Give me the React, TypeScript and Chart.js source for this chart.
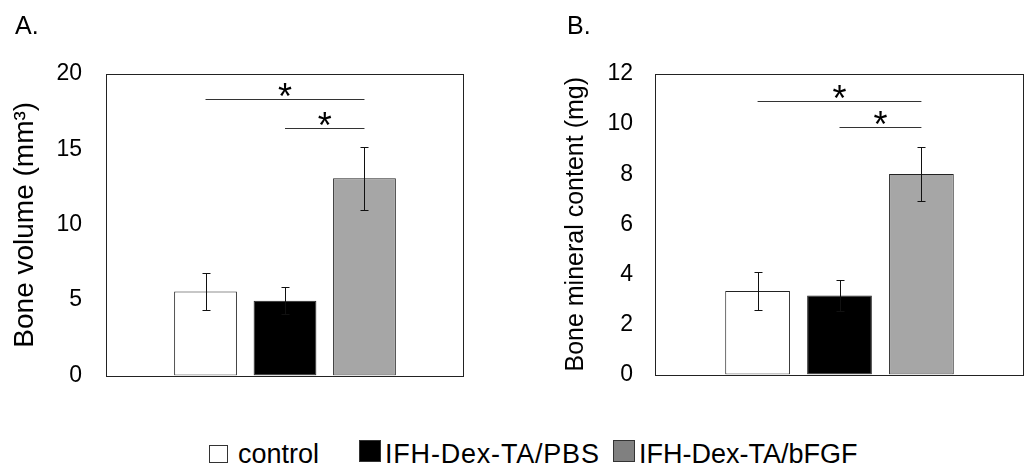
import React, { useEffect, useRef } from 'react';
import { Chart, registerables } from 'chart.js';
Chart.register(...registerables);

const groups = ['control', 'IFH-Dex-TA/PBS', 'IFH-Dex-TA/bFGF'];
const volumeMeans = [5.58, 4.96, 13.08];
const volumeErrors = [1.24, 0.91, 2.1];
const mineralMeans = [3.33, 3.15, 8.01];
const mineralErrors = [0.75, 0.63, 1.09];
const volumeTicks = [0, 5, 10, 15, 20];
const mineralTicks = [0, 2, 4, 6, 8, 10, 12];
const volumeSigFrom = [0, 1];
const volumeSigTo = [2, 2];
const volumeSigLevel = [18.32, 16.41];
const mineralSigFrom = [0, 1];
const mineralSigTo = [2, 2];
const mineralSigLevel = [10.91, 9.88];
const sigMark = '*';
const fillColors = ['#ffffff', '#000000', '#a6a6a6'];
const swatchColors = ['#ffffff', '#000000', '#808080'];

const FONT = '"Liberation Sans", Arial, sans-serif';

type PanelOpts = {
  letter: string;
  letterX: number;
  means: number[];
  errors: number[];
  ticks: number[];
  max: number;
  title: string;
  titleSize: number;
  titlePad: number;
  axisWidth: number;
  tickPad: number;
  padding: { top: number; bottom: number; left: number; right: number };
  sigFrom: number[];
  sigTo: number[];
  sigLevel: number[];
};

function makeChart(canvas: HTMLCanvasElement, o: PanelOpts) {
  const panelPlugin = {
    id: 'panelDecor',
    afterDatasetsDraw(chart: any) {
      const ctx = chart.ctx as CanvasRenderingContext2D;
      const { left, right, top, bottom } = chart.chartArea;
      const y = chart.scales.y;
      ctx.save();
      // plot box
      ctx.strokeStyle = '#222';
      ctx.lineWidth = 1;
      ctx.strokeRect(Math.round(left) + 0.5, Math.round(top) + 0.5, Math.round(right - left) - 1, Math.round(bottom - top));
      // error bars
      ctx.strokeStyle = '#111';
      o.means.forEach((m, i) => {
        const el = chart.getDatasetMeta(i).data[0];
        const x = Math.round(el.x) + 0.5;
        const hi = Math.round(y.getPixelForValue(m + o.errors[i])) + 0.5;
        const lo = Math.round(y.getPixelForValue(m - o.errors[i])) + 0.5;
        ctx.beginPath();
        ctx.moveTo(x, hi);
        ctx.lineTo(x, lo);
        ctx.moveTo(x - 4, hi);
        ctx.lineTo(x + 4, hi);
        ctx.moveTo(x - 4, lo);
        ctx.lineTo(x + 4, lo);
        ctx.stroke();
      });
      // significance lines
      ctx.strokeStyle = '#333';
      ctx.fillStyle = '#000';
      ctx.font = `36px ${FONT}`;
      ctx.textAlign = 'center';
      ctx.textBaseline = 'alphabetic';
      o.sigLevel.forEach((lvl, k) => {
        const x1 = chart.getDatasetMeta(o.sigFrom[k]).data[0].x;
        const x2 = chart.getDatasetMeta(o.sigTo[k]).data[0].x;
        const ly = Math.round(y.getPixelForValue(lvl)) + 0.5;
        ctx.beginPath();
        ctx.moveTo(x1, ly);
        ctx.lineTo(x2, ly);
        ctx.stroke();
        const mt = ctx.measureText(sigMark);
        const base = ly - 3 - mt.actualBoundingBoxDescent;
        ctx.fillText(sigMark, (x1 + x2) / 2, base);
      });
      // panel letter
      ctx.textAlign = 'left';
      ctx.font = `25px ${FONT}`;
      ctx.fillText(o.letter, o.letterX, 34);
      ctx.restore();
    },
  };

  return new Chart(canvas, {
    type: 'bar',
    data: {
      labels: [''],
      datasets: groups.map((g, i) => ({
        label: g,
        data: [o.means[i]],
        backgroundColor: fillColors[i],
        borderColor: '#222',
        borderWidth: 1,
        borderSkipped: false,
        categoryPercentage: 0.666,
        barPercentage: 0.79,
      })),
    },
    options: {
      responsive: false,
      animation: false,
      layout: { padding: o.padding },
      plugins: {
        legend: { display: false },
        tooltip: { enabled: false },
        title: { display: false },
      },
      scales: {
        x: { display: false },
        y: {
          min: 0,
          max: o.max,
          afterBuildTicks: (s: any) => {
            s.ticks = o.ticks.map((v) => ({ value: v }));
          },
          afterFit: (s: any) => {
            s.width = o.axisWidth;
            s.paddingTop = 0;
            s.paddingBottom = 0;
          },
          grid: { display: false, drawTicks: false, tickLength: 0 },
          border: { display: false },
          ticks: { padding: o.tickPad, color: '#000', font: { family: FONT, size: 23 } },
          title: {
            display: true,
            text: o.title,
            color: '#000',
            font: { family: FONT, size: o.titleSize, lineHeight: 1 },
            padding: { top: o.titlePad, bottom: 0 },
          },
        },
      },
    } as any,
    plugins: [panelPlugin],
  });
}

export default function App() {
  const refA = useRef<HTMLCanvasElement>(null);
  const refB = useRef<HTMLCanvasElement>(null);

  useEffect(() => {
    const a = makeChart(refA.current!, {
      letter: 'A.',
      letterX: 15,
      means: volumeMeans,
      errors: volumeErrors,
      ticks: volumeTicks,
      max: 20,
      title: 'Bone volume (mm³)',
      titleSize: 28,
      titlePad: 11,
      axisWidth: 106,
      tickPad: 24,
      padding: { top: 74, bottom: 24.5, left: 0, right: 52 },
      sigFrom: volumeSigFrom,
      sigTo: volumeSigTo,
      sigLevel: volumeSigLevel,
    });
    const b = makeChart(refB.current!, {
      letter: 'B.',
      letterX: 51,
      means: mineralMeans,
      errors: mineralErrors,
      ticks: mineralTicks,
      max: 12,
      title: 'Bone mineral content (mg)',
      titleSize: 25,
      titlePad: 47.5,
      axisWidth: 139,
      tickPad: 22,
      padding: { top: 74, bottom: 25.5, left: 0, right: 8 },
      sigFrom: mineralSigFrom,
      sigTo: mineralSigTo,
      sigLevel: mineralSigLevel,
    });
    return () => {
      a.destroy();
      b.destroy();
    };
  }, []);

  const legendItems = [
    { sq: 209, sqTop: 445, sqW: 19, sqH: 18, tx: 238, ls: 0 },
    { sq: 359, sqTop: 440, sqW: 22, sqH: 22, tx: 385, ls: 0.8 },
    { sq: 613, sqTop: 440, sqW: 22, sqH: 22, tx: 639, ls: 0 },
  ];

  return (
    <div style={{ position: 'absolute', left: 0, top: 0, width: 1032, height: 470, background: '#fff', overflow: 'hidden' }}>
      <canvas ref={refA} width={516} height={400} style={{ position: 'absolute', left: 0, top: 0 }} />
      <canvas ref={refB} width={516} height={400} style={{ position: 'absolute', left: 516, top: 0 }} />
      {groups.map((g, i) => {
        const it = legendItems[i];
        return (
          <React.Fragment key={g}>
            <div
              style={{
                position: 'absolute',
                left: it.sq,
                top: it.sqTop,
                width: it.sqW,
                height: it.sqH,
                boxSizing: 'border-box',
                border: '1px solid #333',
                background: swatchColors[i],
              }}
            />
            <span
              style={{
                position: 'absolute',
                left: it.tx,
                top: 441,
                font: `27px ${FONT}`,
                lineHeight: '27px',
                letterSpacing: it.ls,
                color: '#000',
                whiteSpace: 'nowrap',
              }}
            >
              {g}
            </span>
          </React.Fragment>
        );
      })}
    </div>
  );
}
